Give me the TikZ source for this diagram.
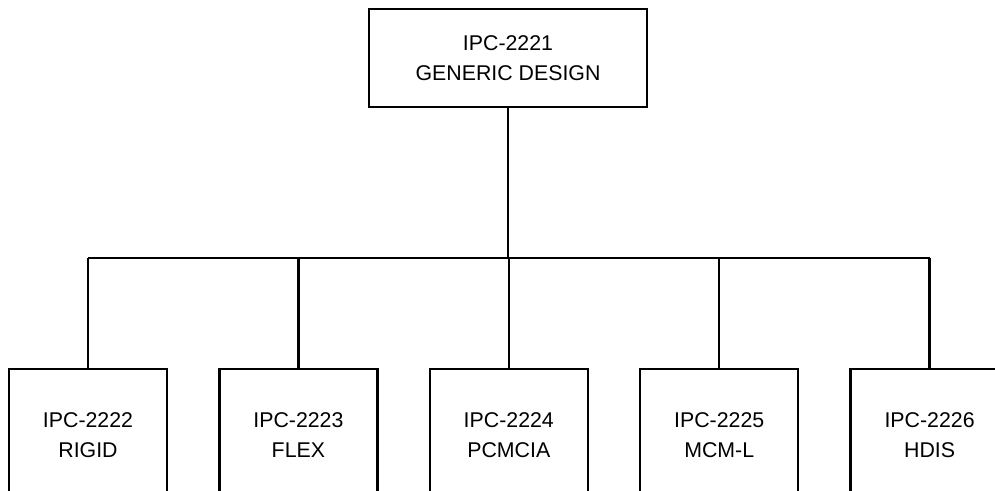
\documentclass[tikz,border=0pt]{standalone}
\usepackage{fontspec}
\setmainfont{Liberation Sans}
\usepackage{tikz}
\usetikzlibrary{positioning}
\tikzset{
    topbox/.style = {rectangle, draw=black, line width=1.8pt, fill=white, minimum width=208.5pt, minimum height=73.5pt, inner sep=0pt, align=center, font=\fontsize{16pt}{23pt}\selectfont},
    specbox/.style = {rectangle, draw=black, line width=1.8pt, fill=white, minimum width=118.5pt, minimum height=99pt, inner sep=0pt, align=center, font=\fontsize{16pt}{22.5pt}\selectfont},
    line/.style = {line width=1.8pt, -}
}
\begin{document}
\begin{tikzpicture}[x=0.75pt, y=-0.75pt, node distance=37.5pt]
\clip (0,0) rectangle (995,491);
\node (generic) [topbox] at (508,58) {IPC-2221\\ GENERIC DESIGN};
\node (rigid) [specbox] at (88,435) {IPC-2222\\ RIGID};
\node (flex) [specbox, right=of rigid] {IPC-2223\\ FLEX};
\node (pcmcia) [specbox, right=of flex] {IPC-2224\\ PCMCIA};
\node (mcml) [specbox, right=of pcmcia] {IPC-2225\\ MCM-L};
\node (hdis) [specbox, right=of mcml] {IPC-2226\\ HDIS};
\coordinate (bus) at (508,258);

\draw [line] (generic) -- (generic |- bus);
\draw [line] (rigid |- bus) -- (hdis |- bus);
\foreach \spec in {rigid, flex, pcmcia, mcml, hdis}
    \draw [line] (\spec) -- (\spec |- bus);
\end{tikzpicture}
\end{document}
